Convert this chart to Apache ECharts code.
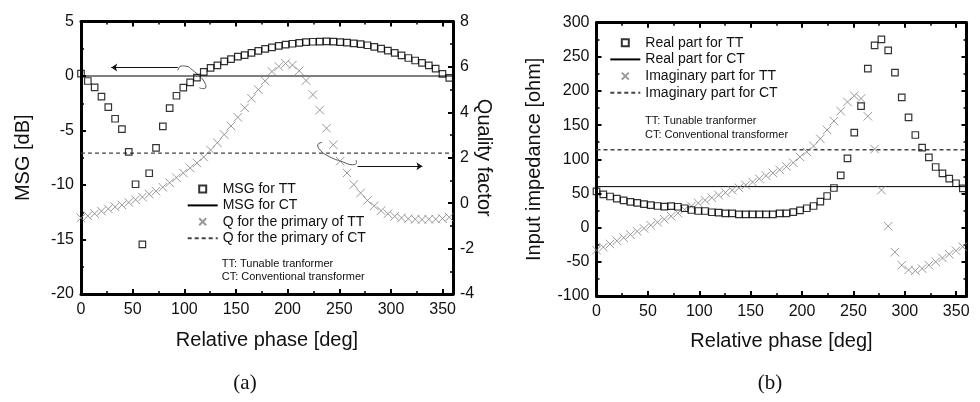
<!DOCTYPE html>
<html>
<head>
<meta charset="utf-8">
<script src="https://cdn.jsdelivr.net/npm/echarts@6/dist/echarts.min.js"></script>
<style>
html, body { margin: 0; padding: 0; background: #fff; }
#chart { width: 980px; height: 402px; }
</style>
</head>
<body>
<div id="chart"></div>
<script>
// Relative phase of every sample [deg]
var phaseDeg = [0, 6.6, 13.2, 19.8, 26.4, 33, 39.6, 46.2, 52.8, 59.4,
    66, 72.6, 79.2, 85.8, 92.4, 99, 105.6, 112.2, 118.8, 125.4,
    132, 138.6, 145.2, 151.8, 158.4, 165, 171.6, 178.2, 184.8, 191.4,
    198, 204.6, 211.2, 217.8, 224.4, 231, 237.6, 244.2, 250.8, 257.4,
    264, 270.6, 277.2, 283.8, 290.4, 297, 303.6, 310.2, 316.8, 323.4,
    330, 336.6, 343.2, 349.8, 356.4];

// (a) MSG [dB] and quality factor
var msgTT = [0.22, -0.46, -1.04, -1.9, -2.85, -3.92, -4.87, -6.96, -9.93, -15.45,
    -8.92, -6.59, -4.63, -2.94, -1.81, -1.07, -0.58, -0.15, 0.37, 0.74,
    0.98, 1.35, 1.54, 1.78, 1.92, 2.12, 2.3, 2.48, 2.63, 2.77,
    2.87, 2.96, 3.04, 3.1, 3.14, 3.16, 3.17, 3.15, 3.11, 3.06,
    3.0, 2.92, 2.82, 2.68, 2.52, 2.33, 2.12, 1.9, 1.65, 1.42,
    1.2, 0.98, 0.68, 0.2, -0.18];
var qTT = [-0.65, -0.56, -0.46, -0.35, -0.25, -0.16, -0.08, 0.03, 0.15, 0.27,
    0.4, 0.53, 0.7, 0.9, 1.12, 1.33, 1.55, 1.77, 2.03, 2.34,
    2.66, 3.02, 3.4, 3.78, 4.2, 4.62, 5.0, 5.38, 5.8, 6.02,
    6.15, 6.08, 5.83, 5.4, 4.78, 4.1, 3.3, 2.57, 1.85, 1.33,
    0.82, 0.45, 0.12, -0.12, -0.33, -0.47, -0.58, -0.65, -0.69, -0.71,
    -0.72, -0.71, -0.7, -0.68, -0.62];
var msgCT = 0;
var qCT = 2.2;

// (b) input impedance [ohm]
var realTT = [53, 48.5, 45.5, 42.5, 39.8, 37.8, 36.3, 34.5, 33, 31.6,
    30.6, 31.5, 30.5, 28.3, 25.8, 24.3, 24.3, 22.5, 21.8, 20.9,
    20.9, 19.5, 19.5, 19.5, 19.5, 19.5, 19.5, 20.9, 20.9, 22.8,
    25.3, 28.3, 31.6, 37.9, 46.3, 58, 76.6, 101.5, 139, 178,
    232.7, 266.9, 275.7, 259.6, 226.8, 190.8, 161.5, 135.6, 117, 102.9,
    88.7, 79.5, 71.6, 64.9, 57.5];
var imagTT = [-33, -28.5, -24, -19.3, -14.8, -10.2, -5.5, -1.2, 3.3, 7.8,
    12.2, 16.7, 21.3, 26.3, 31.5, 36, 40, 43.8, 47.6, 51.2,
    54.6, 58.2, 62.2, 66.7, 71.5, 76, 80, 84.5, 89.5, 95,
    103.5, 111, 119.4, 130, 143, 156, 170.5, 184, 193, 189,
    163, 115, 55, 2, -36, -55, -62, -63, -60, -55,
    -50, -44.5, -39, -33.8, -28];
var realCT = 60;
var imagCT = 114;

// Annotation arrows and loops in (a), in data units
var arrowMsg = [[93.6, 0.77], [29.3, 0.77]];
var loopMsg = [[93.7, 0.52], [96.9, 0.92], [101.7, 0.9], [108.1, 0.52], [114.5, 0],
    [119.4, -0.55], [120.9, -1.01], [117.7, -1.16], [114.5, -1.07]];
var arrowQ = [[267.7, 1.63], [330.4, 1.63]];
var loopQ = [[233.3, 2.68], [229.1, 2.57], [231.4, 2.34], [240.3, 2.05], [253.2, 1.82],
    [262.8, 1.69], [266.7, 1.79], [266.1, 1.9]];

var FONT = '"Liberation Sans", Arial, sans-serif';
var CROSS = 'path://M0,0L10,10M10,0L0,10';
var SQUARE = 'path://M0,0L10,0L10,10L0,10Z';

function pairs(xs, ys) {
    var out = [];
    for (var i = 0; i < xs.length; i++) {
        out.push([xs[i], ys[i]]);
    }
    return out;
}

function flat(value) {
    return [[0, value], [360, value]];
}

/**
 * One axis with inward ticks and a heavy frame line.
 */
function frameAxis(opts) {
    var axis = {
        type: 'value',
        axisLine: { show: true, onZero: false, lineStyle: { color: '#000', width: 3 } },
        axisTick: { show: true, inside: true, length: 5, lineStyle: { color: '#000', width: 2 } },
        minorTick: { show: true, splitNumber: 2, length: 3, lineStyle: { color: '#000', width: 1.5 } },
        splitLine: { show: false },
        axisLabel: { show: true, fontSize: 16, color: '#111', fontFamily: FONT, margin: 7 },
        nameTextStyle: { fontSize: 20, color: '#111', fontFamily: FONT },
    };
    for (var k in opts) {
        axis[k] = opts[k];
    }
    return axis;
}

function refLine(name, xi, yi, value, dashed) {
    return {
        name: name, type: 'line', xAxisIndex: xi, yAxisIndex: yi,
        data: flat(value), symbol: 'none', z: 2,
        itemStyle: { color: 'transparent' },
        lineStyle: dashed ? { color: '#444', width: 1.3, type: [4, 3] } : { color: '#000', width: 1 },
    };
}

function markers(name, xi, yi, values, isCross) {
    return {
        name: name, type: 'scatter', xAxisIndex: xi, yAxisIndex: yi,
        data: pairs(phaseDeg, values), clip: false,
        symbol: isCross ? CROSS : SQUARE,
        symbolSize: isCross ? 8.5 : 6.5,
        itemStyle: isCross
            ? { color: 'transparent', borderColor: '#808080', borderWidth: 1 }
            : { color: 'transparent', borderColor: '#000', borderWidth: 1.2 },
        z: isCross ? 3 : 4,
    };
}

function annotation(name, yi, loop, arrow) {
    return {
        name: name, type: 'line', xAxisIndex: 0, yAxisIndex: yi, data: loop,
        smooth: 0.5, symbol: 'none', silent: true, lineStyle: { color: '#555', width: 1 },
        markLine: {
            silent: true, symbol: ['none', 'arrow'], symbolSize: 6, label: { show: false },
            lineStyle: { color: '#111', width: 1, type: 'solid' },
            data: [[{ coord: arrow[0] }, { coord: arrow[1] }]],
        },
    };
}

var noLabel = { show: false };
var xLabel = { fontSize: 16, color: '#111', fontFamily: FONT, margin: 8, showMaxLabel: false };

var chart = echarts.init(document.getElementById('chart'), null, { renderer: 'canvas' });

var options = {
    animation: false,
    backgroundColor: '#fff',
    textStyle: { fontFamily: FONT },
    grid: [
        { left: 81, top: 21.5, width: 372, height: 272.5 },
        { left: 596.5, top: 22.7, width: 370, height: 273.2 },
    ],
    xAxis: [
        frameAxis({ gridIndex: 0, position: 'bottom', min: 0, max: 360, interval: 50,
            name: 'Relative phase [deg]', nameLocation: 'middle', nameGap: 36, axisLabel: xLabel }),
        frameAxis({ gridIndex: 0, position: 'top', min: 0, max: 360, interval: 50, axisLabel: noLabel }),
        frameAxis({ gridIndex: 1, position: 'bottom', min: 0, max: 360, interval: 50,
            name: 'Relative phase [deg]', nameLocation: 'middle', nameGap: 36, axisLabel: xLabel }),
        frameAxis({ gridIndex: 1, position: 'top', min: 0, max: 360, interval: 50, axisLabel: noLabel }),
    ],
    yAxis: [
        frameAxis({ gridIndex: 0, position: 'left', min: -20, max: 5, interval: 5,
            name: 'MSG [dB]', nameLocation: 'middle', nameGap: 48, nameRotate: 90 }),
        frameAxis({ gridIndex: 0, position: 'right', min: -4, max: 8, interval: 2,
            name: 'Quality factor', nameLocation: 'middle', nameGap: 21, nameRotate: -90,
            nameMoveOverlap: false }),
        frameAxis({ gridIndex: 1, position: 'left', min: -100, max: 300, interval: 50,
            name: 'Input impedance [ohm]', nameLocation: 'middle', nameGap: 52, nameRotate: 90 }),
        frameAxis({ gridIndex: 1, position: 'right', min: -100, max: 300, interval: 50, axisLabel: noLabel }),
    ],
    legend: [
        {
            orient: 'vertical', left: 181.7, top: 177, itemWidth: 30, itemHeight: 7, itemGap: 2.4,
            selectedMode: false, symbolKeepAspect: true,
            textStyle: { fontSize: 14, color: '#111', fontFamily: FONT },
            data: ['MSG for TT', 'MSG for CT', 'Q for the primary of TT', 'Q for the primary of CT'],
        },
        {
            orient: 'vertical', left: 604.3, top: 30.7, itemWidth: 30, itemHeight: 7, itemGap: 2.7,
            selectedMode: false, symbolKeepAspect: true,
            textStyle: { fontSize: 14, color: '#111', fontFamily: FONT },
            data: ['Real part for TT', 'Real part for CT', 'Imaginary part for TT', 'Imaginary part for CT'],
        },
    ],
    graphic: [
        { type: 'text', left: 221.7, top: 258, style: { text: 'TT: Tunable tranformer', font: '11px ' + FONT, fill: '#111' } },
        { type: 'text', left: 221.7, top: 271.5, style: { text: 'CT: Conventional transformer', font: '11px ' + FONT, fill: '#111' } },
        { type: 'text', left: 645, top: 115.5, style: { text: 'TT: Tunable tranformer', font: '11px ' + FONT, fill: '#111' } },
        { type: 'text', left: 645, top: 129.5, style: { text: 'CT: Conventional transformer', font: '11px ' + FONT, fill: '#111' } },
        { type: 'text', x: 245, y: 383, style: { text: '(a)', font: '21px "Liberation Serif", serif', fill: '#111', align: 'center', verticalAlign: 'middle' } },
        { type: 'text', x: 770, y: 383, style: { text: '(b)', font: '21px "Liberation Serif", serif', fill: '#111', align: 'center', verticalAlign: 'middle' } },
    ],
    series: [
        // (a)
        refLine('MSG for CT', 0, 0, msgCT, false),
        refLine('Q for the primary of CT', 0, 1, qCT, true),
        markers('Q for the primary of TT', 0, 1, qTT, true),
        markers('MSG for TT', 0, 0, msgTT, false),
        annotation('loopMsg', 0, loopMsg, arrowMsg),
        annotation('loopQ', 1, loopQ, arrowQ),
        // (b)
        refLine('Real part for CT', 2, 2, realCT, false),
        refLine('Imaginary part for CT', 2, 2, imagCT, true),
        markers('Imaginary part for TT', 2, 2, imagTT, true),
        markers('Real part for TT', 2, 2, realTT, false),
    ],
};

chart.setOption(options);
</script>
</body>
</html>
